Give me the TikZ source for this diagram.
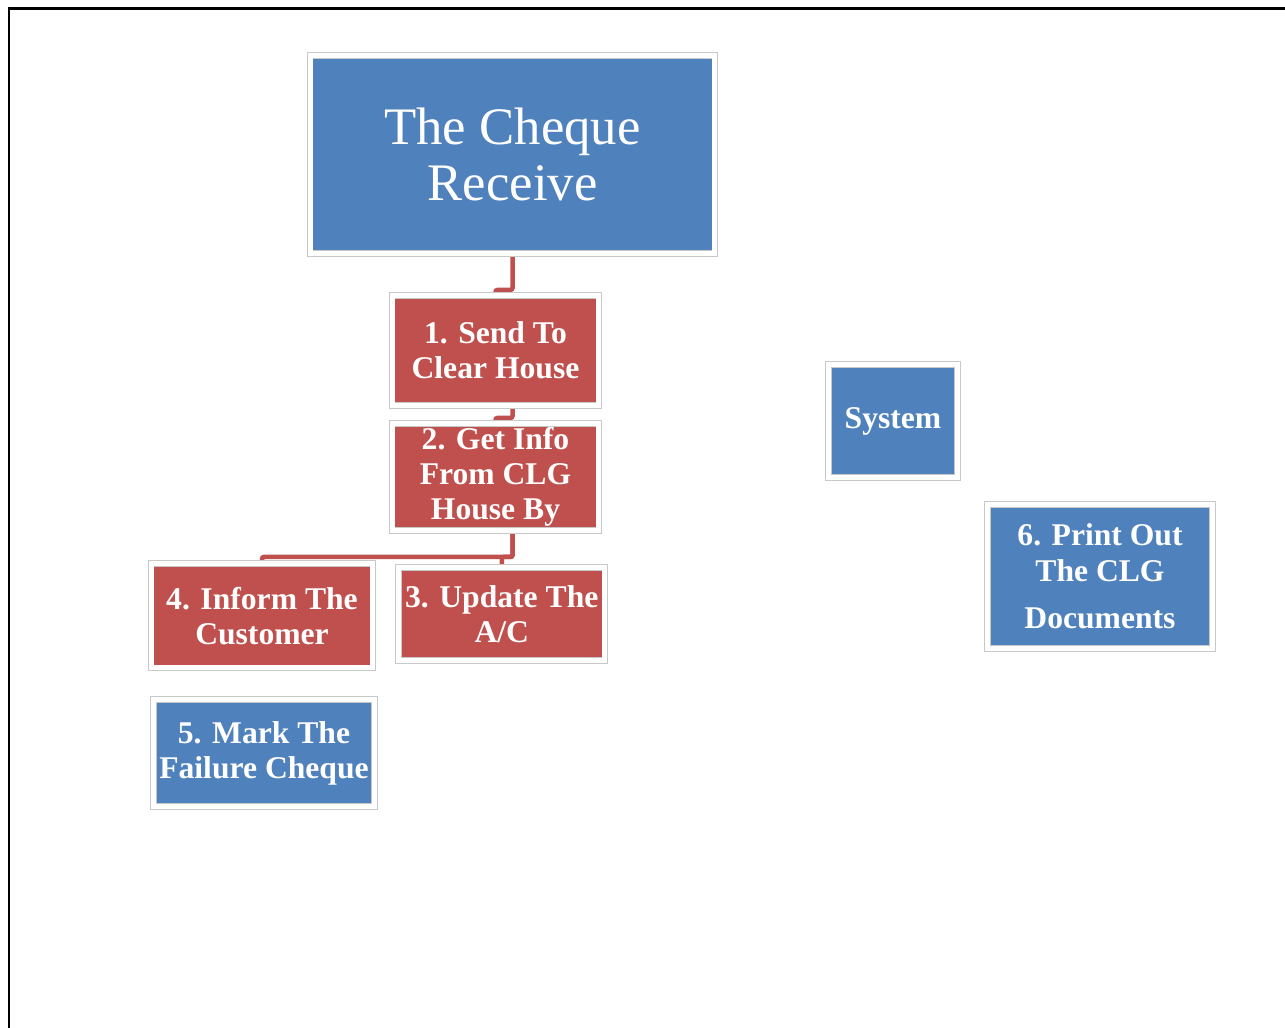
\documentclass[tikz,border=0pt]{standalone}
\usepackage{fontspec}
\setmainfont{Liberation Serif}
\usepackage{tikz}
\usetikzlibrary{backgrounds}
\definecolor{chqblue}{HTML}{4F81BD}
\definecolor{chqred}{HTML}{C0504D}
\definecolor{boxline}{HTML}{C8C8C8}
\tikzstyle{box}=[rectangle,draw=boxline,line width=.5pt,double=white,double distance=.1cm,text=white,align=center,inner sep=0pt]
\tikzstyle{bbox}=[box,fill=chqblue,font=\bfseries\fontsize{18}{20}\selectfont]
\tikzstyle{rbox}=[box,fill=chqred,font=\bfseries\fontsize{18}{20}\selectfont]
\tikzstyle{link}=[chqred,line width=.09cm,rounded corners=.04cm]
\begin{document}
\begin{tikzpicture}[x=.02cm,y=-.02cm]
  \useasboundingbox (0,0) rectangle (1285,1028);
  \draw[line width=.06cm] (1285,8) -- (9,8) -- (9,1028);
  \node[box,fill=chqblue,font=\fontsize{30}{32}\selectfont,minimum width=8.1cm,minimum height=3.96cm]
    (title) at (512.5,154.5) {The Cheque\\Receive};
  \node[rbox,minimum width=4.14cm,minimum height=2.2cm]  (send)   at (495.5,350.5) {1. Send To\\Clear House};
  \node[rbox,minimum width=4.14cm,minimum height=2.14cm] (info)   at (495.5,477)   {2. Get Info\\From CLG\\House By};
  \node[rbox,minimum width=4.13cm,minimum height=1.86cm] (update) at (501.75,614)  {3. Update The\\A/C};
  \node[rbox,minimum width=4.44cm,minimum height=2.09cm] (inform) at (262,615.75)  {4. Inform The\\Customer};
  \node[bbox,minimum width=4.43cm,minimum height=2.14cm] (mark)   at (264,753)     {5. Mark The\\Failure Cheque};
  \node[bbox,minimum width=2.57cm,minimum height=2.26cm] (system) at (893,421)     {System};
  \node[bbox,minimum width=4.5cm,minimum height=2.88cm]  (print)  at (1100,576.5)  {6. Print Out\\The CLG\\[7pt]Documents};
  \begin{scope}[on background layer]
    \draw[link] (title.south) -- ++(0,36) -| (send.north);
    \draw[link] (send.south -| title.south) -- ++(0,12) -| (info.north);
    \draw[link] (info.south -| title.south) -- ++(0,26) -| (inform.north);
    \draw[link] (info.south -| title.south) -- ++(0,26) -| (update.north);
  \end{scope}
\end{tikzpicture}
\end{document}
